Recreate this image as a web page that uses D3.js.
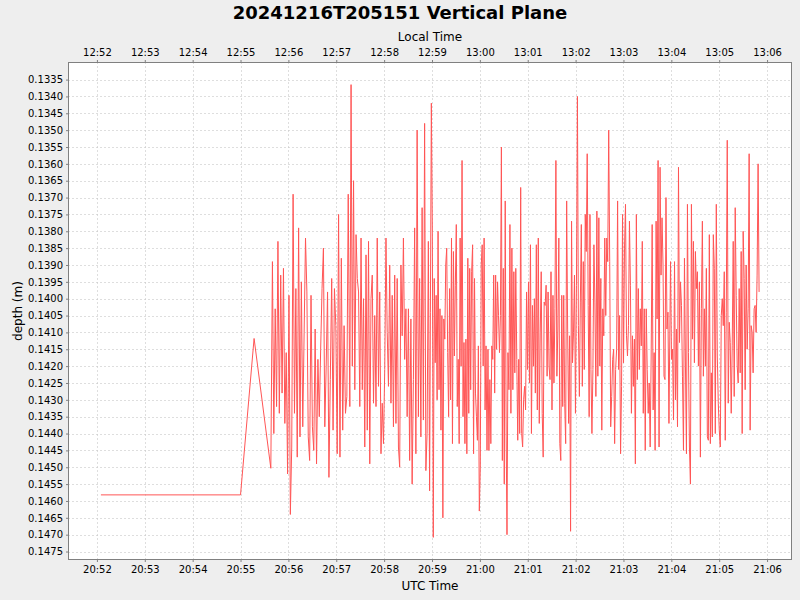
<!DOCTYPE html>
<html>
<head>
<meta charset="utf-8">
<script src="https://cdn.jsdelivr.net/npm/d3@7"></script>
<style>
  html, body { margin: 0; padding: 0; background: #eeeeee; }
  svg { display: block; font-family: "DejaVu Sans", sans-serif; }
</style>
</head>
<body>
<svg id="chart" width="800" height="600"></svg>
<script>
// ---------------- data ----------------
const titleText = "20241216T205151 Vertical Plane";
const xLabelBottom = "UTC Time";
const xLabelTop = "Local Time";
const yLabel = "depth (m)";
const localOffsetHours = -8;

const yTicks = [0.1335,0.1340,0.1345,0.1350,0.1355,0.1360,0.1365,0.1370,0.1375,0.1380,
  0.1385,0.1390,0.1395,0.1400,0.1405,0.1410,0.1415,0.1420,0.1425,0.1430,0.1435,0.1440,
  0.1445,0.1450,0.1455,0.1460,0.1465,0.1470,0.1475];

// initial samples (UTC time, depth)
const prefixTimes = ["20:52:05", "20:55:00", "20:55:17", "20:55:38"];
const prefixDepths = [0.14582, 0.14582, 0.14118, 0.14503];

// noisy samples, grouped by time window
const segWindows = [
  ["20:55:40", "20:57:15"],
  ["20:57:17", "20:58:57"],
  ["20:58:58", "21:00:33"],
  ["21:00:34", "21:02:17"],
  ["21:02:18", "21:03:57"],
  ["21:03:59", "21:05:50"]
];
const segA = [0.1389,0.1440,0.1403,0.1432,0.1383,0.1434,0.1393,0.1428,0.1391,0.1437,0.1416,0.1452,
  0.1399,0.1464,0.1444,0.1369,0.1434,0.1397,0.1447,0.1379,0.1441,0.1395,0.1438,0.1410,0.1382,0.1398,
  0.1441,0.1448,0.1399,0.1438,0.1445,0.1409,0.1449,0.1418,0.1435,0.1415,0.1397,0.1385,0.1438,0.1420,
  0.1398,0.1453,0.1424,0.1394,0.1439,0.1397,0.1408,0.1446,0.1375,0.1447,0.1388,0.1439,0.1408,0.1434,
  0.1429,0.1369];
const segB = [0.1432,0.13365,0.1420,0.1365,0.1427,0.1381,0.1394,0.1398,0.1432,0.1382,0.1427,0.1400,
  0.1444,0.1387,0.1439,0.1383,0.1449,0.1400,0.1393,0.1431,0.1405,0.1432,0.1382,0.1426,0.1398,0.1446,
  0.1431,0.1443,0.1421,0.1382,0.1410,0.1426,0.1390,0.1431,0.1399,0.1438,0.1393,0.1437,0.1394,0.1444,
  0.1450,0.1390,0.1411,0.1382,0.1418,0.1403,0.1435,0.1403,0.1448,0.1406,0.1455,0.1424,0.1379,0.1446,
  0.1350,0.1435,0.1394,0.1441,0.1373,0.1436,0.1348,0.1451,0.1440,0.1383,0.1457];
const segC = [0.1404,0.1342,0.1379,0.14708,0.1394,0.1419,0.1399,0.1430,0.1380,0.1427,0.1403,0.1439,
  0.1405,0.1465,0.1406,0.1412,0.1390,0.1385,0.1416,0.1435,0.1397,0.1430,0.1382,0.1443,0.1386,0.1417,
  0.1396,0.1378,0.1432,0.1418,0.1443,0.1382,0.1420,0.1359,0.1435,0.1413,0.1443,0.1412,0.1446,0.1388,
  0.1434,0.1391,0.1427,0.1392,0.1384,0.1446,0.1394,0.1428,0.1435,0.1442,0.1414,0.1463,0.1450,0.1390,
  0.1384,0.1420,0.1382,0.1433,0.1414,0.1445,0.1415,0.1445,0.1424,0.1443,0.1414,0.1418,0.1393,0.1428,
  0.1393,0.1415,0.1395,0.1405,0.1416,0.1405,0.1355,0.1448,0.1391,0.1455,0.1371,0.1441];
const segD = [0.1470,0.1416,0.1427,0.1378,0.1434,0.1385,0.1427,0.1392,0.1422,0.1391,0.1418,0.1442,
  0.1418,0.1440,0.1367,0.1440,0.1444,0.1430,0.1426,0.1433,0.1398,0.1421,0.1395,0.1425,0.1384,0.1440,
  0.1402,0.1420,0.1400,0.1428,0.1384,0.1433,0.1382,0.1437,0.1410,0.1392,0.1434,0.1447,0.1401,0.1402,
  0.1396,0.1423,0.1398,0.1420,0.1424,0.1392,0.1433,0.1399,0.1425,0.1403,0.1359,0.1423,0.1409,0.1382,
  0.1443,0.1448,0.1399,0.1432,0.1399,0.1431,0.1443,0.1371,0.1409,0.1437,0.1411,0.1469,0.1377,0.1419,
  0.1410,0.1393,0.1434,0.1396,0.1340,0.1408,0.1429,0.1401,0.1378,0.1426,0.1389,0.1421,0.1375,0.1386,
  0.1357,0.1402,0.1435];
const segE = [0.1375,0.1421,0.1440,0.1421,0.1384,0.1401,0.1429,0.1374,0.1423,0.1376,0.1420,0.1394,
  0.1439,0.1403,0.1411,0.1382,0.1405,0.1382,0.1389,0.1350,0.1389,0.1438,0.1429,0.1418,0.1415,0.1443,
  0.1421,0.1415,0.1371,0.1421,0.1405,0.1446,0.1426,0.1375,0.1419,0.1385,0.1372,0.1411,0.1417,0.1408,
  0.1377,0.1396,0.1434,0.1411,0.1426,0.1412,0.1449,0.1375,0.1424,0.1397,0.1421,0.1403,0.1414,0.1383,
  0.1434,0.1403,0.1445,0.1403,0.1421,0.1434,0.1425,0.1444,0.1417,0.1378,0.1433,0.1416,0.1445,0.1377,
  0.1406,0.1359,0.1444,0.1361,0.1393,0.1376,0.1390,0.1423,0.1424,0.1370,0.1409,0.1404,0.1437];
const segF = [0.1389,0.1418,0.1415,0.1436,0.1389,0.1430,0.1409,0.1438,0.1361,0.1413,0.1395,0.1402,
  0.1423,0.1445,0.1388,0.1420,0.1446,0.1372,0.1416,0.1444,0.1455,0.1372,0.1412,0.1383,0.1419,0.1386,
  0.1397,0.1392,0.1420,0.1395,0.1447,0.1403,0.1377,0.1423,0.1403,0.1420,0.1391,0.1441,0.1442,0.1381,
  0.1443,0.1422,0.1441,0.1381,0.1391,0.1440,0.1372,0.1417,0.1431,0.1439,0.1444,0.1405,0.1400,0.1408,
  0.1392,0.1442,0.1404,0.1353,0.1431,0.1407,0.1413,0.1434,0.1414,0.1383,0.1429,0.1373,0.1399,0.1420,
  0.1425,0.1397,0.1422,0.1386,0.1440,0.1380,0.1394,0.1427,0.1390,0.1415,0.1403,0.1357,0.1439,0.1408,
  0.1410,0.1422,0.1403,0.1402,0.1410,0.1393,0.1360,0.1398];
const segValues = [segA, segB, segC, segD, segE, segF];

// ---------------- build series ----------------
const parse = d3.utcParse("%H:%M:%S");
const series = prefixTimes.map((t, i) => ({ t: parse(t), v: prefixDepths[i] }));
segWindows.forEach((w, k) => {
  const vals = segValues[k];
  const t0 = +parse(w[0]), t1 = +parse(w[1]);
  vals.forEach((v, i) => {
    series.push({ t: new Date(t0 + (t1 - t0) * i / (vals.length - 1)), v });
  });
});

// ---------------- layout ----------------
const W = 800, H = 600;
const plot = { left: 68, right: 792, top: 62, bottom: 560 };

const svg = d3.select("#chart");
svg.append("rect").attr("width", W).attr("height", H).attr("fill", "#eeeeee");

const tExt = d3.extent(series, d => +d.t);
const tPad = (tExt[1] - tExt[0]) * 0.05;
const x = d3.scaleUtc()
  .domain([new Date(tExt[0] - tPad), new Date(tExt[1] + tPad)])
  .range([plot.left, plot.right]);

const vExt = d3.extent(series, d => d.v);
const vPad = (vExt[1] - vExt[0]) * 0.05;
const y = d3.scaleLinear()
  .domain([vExt[0] - vPad, vExt[1] + vPad])
  .range([plot.top, plot.bottom]);   // depth increases downward

const offMs = localOffsetHours * 3600 * 1000;
const xLocal = d3.scaleUtc()
  .domain(x.domain().map(d => new Date(+d + offMs)))
  .range(x.range());

// plot background
svg.append("rect")
  .attr("x", plot.left).attr("y", plot.top)
  .attr("width", plot.right - plot.left).attr("height", plot.bottom - plot.top)
  .attr("fill", "#ffffff");

// gridlines
const minuteTicks = x.ticks(d3.utcMinute.every(1));
const grid = svg.append("g").attr("stroke", "#c8c8c8").attr("stroke-width", 0.6)
  .attr("stroke-dasharray", "2,2").attr("shape-rendering", "crispEdges");
grid.selectAll("line.v").data(minuteTicks).join("line")
  .attr("x1", d => Math.round(x(d)) + 0.5).attr("x2", d => Math.round(x(d)) + 0.5)
  .attr("y1", plot.top).attr("y2", plot.bottom);
grid.selectAll("line.h").data(yTicks).join("line")
  .attr("y1", d => Math.round(y(d)) + 0.5).attr("y2", d => Math.round(y(d)) + 0.5)
  .attr("x1", plot.left).attr("x2", plot.right);

// data line
svg.append("clipPath").attr("id", "clip").append("rect")
  .attr("x", plot.left).attr("y", plot.top)
  .attr("width", plot.right - plot.left).attr("height", plot.bottom - plot.top);
const line = d3.line().x(d => x(d.t)).y(d => y(d.v));
svg.append("path")
  .datum(series)
  .attr("clip-path", "url(#clip)")
  .attr("fill", "none")
  .attr("stroke", "#ff5555")
  .attr("stroke-width", 1)
  .attr("stroke-linejoin", "miter")
  .attr("d", line);

// plot outline
svg.append("rect")
  .attr("x", plot.left + 0.5).attr("y", plot.top + 0.5)
  .attr("width", plot.right - plot.left - 1).attr("height", plot.bottom - plot.top - 1)
  .attr("fill", "none").attr("stroke", "#808080").attr("stroke-width", 1);

// axes
const fmt = d3.utcFormat("%H:%M");
function styleAxis(g) {
  g.select(".domain").remove();
  g.selectAll(".tick line").attr("stroke", "#808080");
  g.selectAll(".tick text").attr("fill", "#000").attr("font-size", "10px")
    .attr("font-family", "DejaVu Sans, sans-serif");
}
svg.append("g")
  .attr("transform", `translate(0,${plot.bottom})`)
  .call(d3.axisBottom(x).ticks(d3.utcMinute.every(1)).tickFormat(fmt).tickSize(2).tickPadding(4))
  .call(styleAxis);
svg.append("g")
  .attr("transform", `translate(0,${plot.top})`)
  .call(d3.axisTop(xLocal).ticks(d3.utcMinute.every(1)).tickFormat(fmt).tickSize(2).tickPadding(4))
  .call(styleAxis);
svg.append("g")
  .attr("transform", `translate(${plot.left},0)`)
  .call(d3.axisLeft(y).tickValues(yTicks).tickFormat(d3.format(".4f")).tickSize(2).tickPadding(3))
  .call(styleAxis);

// labels
svg.append("text").attr("x", 400).attr("y", 19).attr("text-anchor", "middle")
  .attr("font-size", "18px").attr("font-weight", "bold").text(titleText);
svg.append("text").attr("x", (plot.left + plot.right) / 2).attr("y", 41).attr("text-anchor", "middle")
  .attr("font-size", "12px").text(xLabelTop);
svg.append("text").attr("x", (plot.left + plot.right) / 2).attr("y", 590).attr("text-anchor", "middle")
  .attr("font-size", "12px").text(xLabelBottom);
svg.append("text")
  .attr("transform", `translate(22,${(plot.top + plot.bottom) / 2}) rotate(-90)`)
  .attr("text-anchor", "middle").attr("font-size", "12px").text(yLabel);
</script>
</body>
</html>
